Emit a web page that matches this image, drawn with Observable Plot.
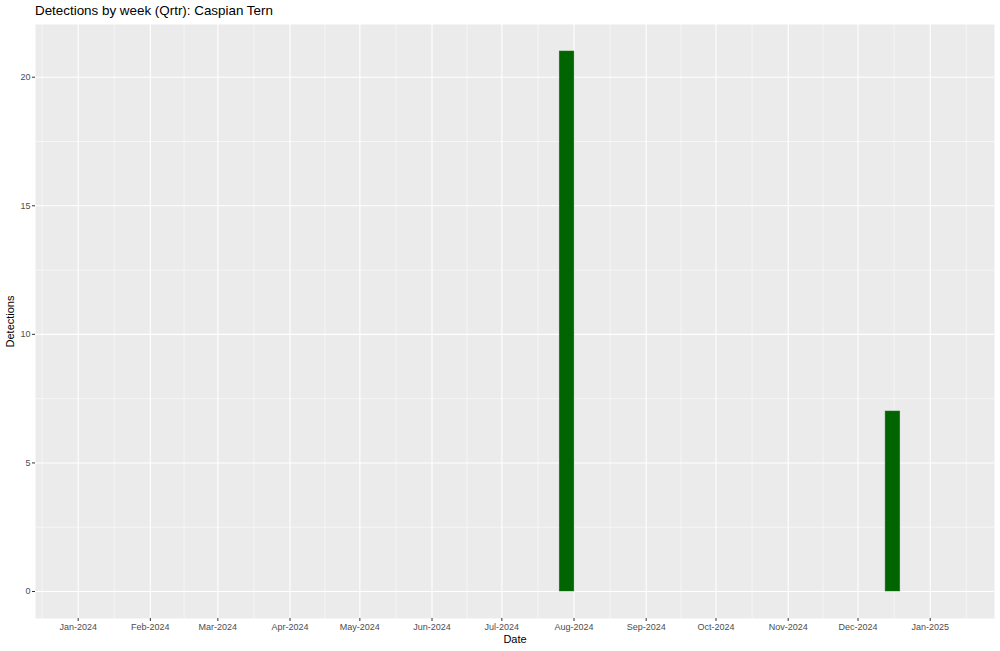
<!DOCTYPE html>
<html>
<head>
<meta charset="utf-8">
<script src="https://cdn.jsdelivr.net/npm/d3@7"></script>
<script src="https://cdn.jsdelivr.net/npm/@observablehq/plot@0.6"></script>
<style>
  body { margin: 0; background: #ffffff; font-family: "Liberation Sans", Arial, sans-serif; }
  #title { height: 22px; padding-left: 35px; font-size: 13.4px; line-height: 22px; color: #000; white-space: nowrap; }
</style>
</head>
<body>
<div id="title">Detections by week (Qrtr): Caspian Tern</div>
<div id="chart"></div>
<script>
// ---- data ----
const weeks = ["2024-07-29", "2024-12-16"];
const detections = [21, 7];
const monthTicks = ["2024-01-01","2024-02-01","2024-03-01","2024-04-01","2024-05-01","2024-06-01",
  "2024-07-01","2024-08-01","2024-09-01","2024-10-01","2024-11-01","2024-12-01","2025-01-01"];
const yTicks = [0, 5, 10, 15, 20];
const yMinor = [2.5, 7.5, 12.5, 17.5];

const DAY = 86400000;
const data = weeks.map((w, i) => ({date: new Date(w + "T00:00:00Z"), n: detections[i]}));
const majors = monthTicks.map(d => new Date(d + "T00:00:00Z"));
const ext = [new Date("2023-12-01T00:00:00Z"), ...majors, new Date("2025-02-01T00:00:00Z")];
const minors = d3.pairs(ext).map(([a, b]) => new Date((+a + +b) / 2));

const plot = Plot.plot({
  width: 1000,
  height: 629,
  marginLeft: 35,
  marginRight: 6,
  marginTop: 2,
  marginBottom: 33,
  style: {fontFamily: "'Liberation Sans', Arial, sans-serif", fontSize: "9px", background: "#ffffff"},
  x: {type: "utc", domain: [new Date(Date.UTC(2023, 11, 13, 16)), new Date(Date.UTC(2025, 0, 28, 15))]},
  y: {domain: [-1.05, 22.05]},
  marks: [
    Plot.frame({fill: "#EBEBEB", stroke: null}),
    Plot.ruleX(minors, {stroke: "#ffffff", strokeWidth: 0.55}),
    Plot.ruleY(yMinor, {stroke: "#ffffff", strokeWidth: 0.55}),
    Plot.ruleX(majors, {stroke: "#ffffff", strokeWidth: 1.1}),
    Plot.ruleY(yTicks, {stroke: "#ffffff", strokeWidth: 1.1}),
    Plot.rectY(data, {
      x1: d => new Date(+d.date - 3.15 * DAY),
      x2: d => new Date(+d.date + 3.15 * DAY),
      y1: 0, y2: "n",
      fill: "#006400", stroke: "#1a7a1a", strokeWidth: 0.5
    }),
    Plot.axisX(majors, {tickSize: 3, tickPadding: 2, stroke: "#333333", fill: "#4D4D4D",
      tickFormat: d3.utcFormat("%b-%Y"), label: null}),
    Plot.axisY(yTicks, {tickSize: 3, tickPadding: 2, stroke: "#333333", fill: "#4D4D4D", label: null}),
    Plot.text(["Date"], {frameAnchor: "bottom", lineAnchor: "middle", dy: 21, fontSize: 11, fill: "#000"}),
    Plot.text(["Detections"], {frameAnchor: "left", textAnchor: "middle", lineAnchor: "middle", dx: -25, rotate: -90, fontSize: 11, fill: "#000"})
  ]
});
document.getElementById("chart").appendChild(plot);
</script>
</body>
</html>
